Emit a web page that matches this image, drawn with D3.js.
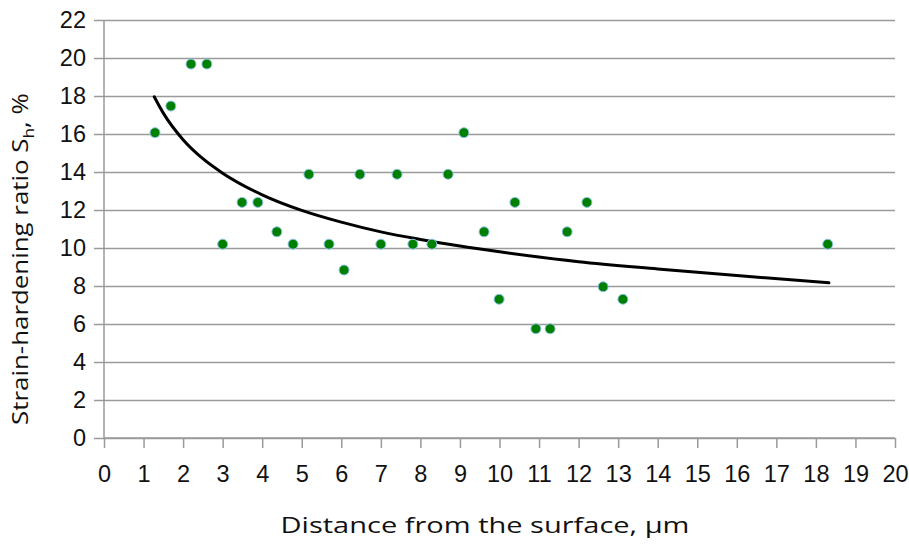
<!DOCTYPE html>
<html>
<head>
<meta charset="utf-8">
<style>
  body { margin: 0; background: #fff; }
  svg { font-family: "Open Sans", "Lato", sans-serif; }
</style>
<script src="https://d3js.org/d3.v7.min.js"></script>
</head>
<body>
<svg width="909" height="545"></svg>
<script>
// measured points
var distance = [1.29, 1.69, 2.2, 2.6, 3.0, 3.49, 3.89, 4.37, 4.78, 5.18, 5.69, 6.07, 6.47, 7.0, 7.41,
                7.81, 8.29, 8.7, 9.1, 9.61, 9.99, 10.39, 10.92, 11.28, 11.71, 12.21, 12.62, 13.12, 18.3];
var ratio = [16.07, 17.47, 19.68, 19.68, 10.2, 12.4, 12.4, 10.85, 10.2, 13.88, 10.2, 8.84, 13.88, 10.2, 13.88,
             10.2, 10.2, 13.88, 16.07, 10.85, 7.3, 12.4, 5.75, 5.75, 10.85, 12.4, 7.96, 7.3, 10.2];

// trend line
var trendX = [1.27, 1.5, 2, 2.5, 3, 4, 5, 6, 7, 8, 9, 10, 12, 14, 16, 18.33];
var trendY = [17.96, 17.1, 15.7, 14.7, 13.94, 12.8, 11.98, 11.36, 10.85, 10.45, 10.1, 9.8, 9.28, 8.9, 8.55, 8.17];

var xTicks = d3.range(0, 21, 1);
var yTicks = d3.range(0, 23, 2);

var svg = d3.select("svg");
var margin = {left: 104, right: 14, top: 20, bottom: 107};
var width = 909 - margin.left - margin.right,
    height = 545 - margin.top - margin.bottom;

var x = d3.scaleLinear().domain([0, 20]).range([0, width]);
var y = d3.scaleLinear().domain([0, 22]).range([height, 0]);

var g = svg.append("g").attr("transform", "translate(" + margin.left + "," + margin.top + ")");

// horizontal grid + y axis
var yAxis = g.append("g")
    .call(d3.axisLeft(y).tickValues(yTicks).tickSize(-width).tickFormat(d3.format("d")));
yAxis.select(".domain").remove();
yAxis.selectAll(".tick line").attr("stroke", "#9a9a9a").attr("stroke-width", 1.5)
    .attr("x2", width).attr("x1", -10);
yAxis.selectAll(".tick text").attr("x", -18).style("font-size", "23.5px").attr("fill", "#111");

g.append("line").attr("x1", 0).attr("x2", 0).attr("y1", 0).attr("y2", height)
    .attr("stroke", "#9a9a9a").attr("stroke-width", 1.5);

// x axis
var xAxis = g.append("g").attr("transform", "translate(0," + height + ")")
    .call(d3.axisBottom(x).tickValues(xTicks).tickSize(10).tickPadding(17).tickFormat(d3.format("d")));
xAxis.select(".domain").attr("stroke", "#9a9a9a").attr("stroke-width", 1.5).attr("d", "M0,0H" + width);
xAxis.selectAll(".tick line").attr("stroke", "#9a9a9a").attr("stroke-width", 1.5);
xAxis.selectAll(".tick text").style("font-size", "23.5px").attr("fill", "#111");

// trend line
var line = d3.line()
    .x(function(d, i) { return x(trendX[i]); })
    .y(function(d) { return y(d); })
    .curve(d3.curveMonotoneX);
g.append("path").datum(trendY)
    .attr("fill", "none").attr("stroke", "#000").attr("stroke-width", 3)
    .attr("stroke-linecap", "round")
    .attr("d", line);

// points
g.selectAll(".dot").data(ratio).enter().append("circle")
    .attr("class", "dot")
    .attr("cx", function(d, i) { return x(distance[i]); })
    .attr("cy", function(d) { return y(d); })
    .attr("r", 5)
    .attr("fill", "#008000")
    .attr("stroke", "#8fc4ea").attr("stroke-width", 1);

// axis titles (stretched to the width they have in the picture)
function stretch(sel, target) {
  var w = sel.node().getBBox().width;
  return target / w;
}

var xt = svg.append("g");
var xtText = xt.append("text")
    .attr("text-anchor", "middle")
    .style("font-size", "22.5px").attr("fill", "#111")
    .text("Distance from the surface, \u03bcm");
xt.attr("transform", "translate(485,533) scale(" + stretch(xtText, 409) + ",1)");

var yt = svg.append("g");
var ytText = yt.append("text")
    .attr("text-anchor", "middle")
    .style("font-size", "22.5px").attr("fill", "#111");
ytText.append("tspan").text("Strain-hardening ratio S");
ytText.append("tspan").attr("dy", 6).style("font-size", "15px").text("h");
ytText.append("tspan").attr("dy", -6).text(", %");
yt.attr("transform", "translate(28,259) rotate(-90) scale(" + stretch(ytText, 332) + ",1)");
</script>
</body>
</html>
